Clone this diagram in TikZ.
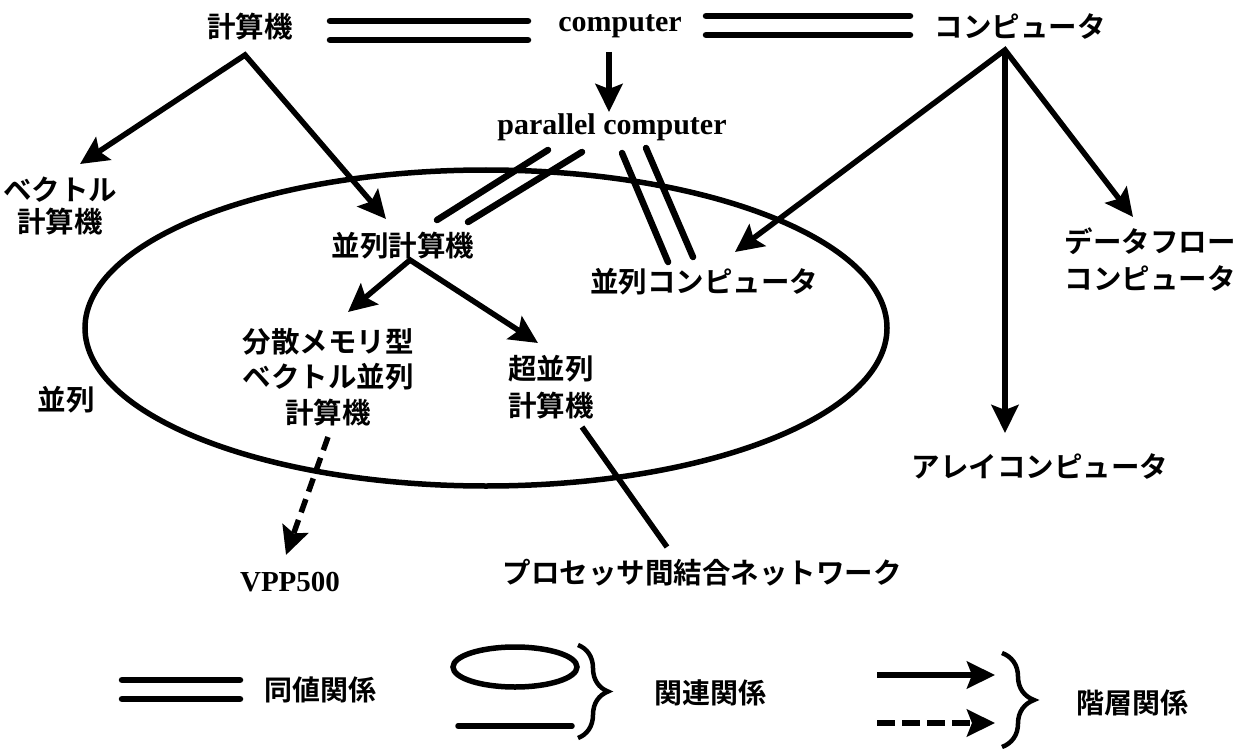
\documentclass[tikz,border=0pt]{standalone}
\usepackage{fontspec}
\setmainfont{Liberation Serif}
\newfontfamily\jp{Noto Sans CJK JP Bold}
\usetikzlibrary{arrows.meta,calc,decorations.pathreplacing}
\begin{document}
\begin{tikzpicture}[x=1pt,y=-1pt,
  jt/.style={font=\jp\fontsize{28.5}{35}\selectfont, inner sep=0pt, align=center},
  en/.style={font=\bfseries\fontsize{30}{36}\selectfont, inner sep=0pt},
  lg/.style={font=\jp\fontsize{28}{30}\selectfont, inner sep=0pt},
  conn/.style={line width=5.5pt},
  tip/.style={},
  arr/.style={conn, -{Stealth[length=28pt,width=27pt,inset=5pt]}},
  biarr/.style={conn, line join=miter, {Stealth[length=28pt,width=27pt,inset=5pt]}-{Stealth[length=28pt,width=27pt,inset=5pt]}},
  eqline/.style={line width=6.5pt, line cap=round},
  dasharr/.style={arr, dash pattern=on 14pt off 8pt},
  rel/.style={line width=5.5pt},
  brc/.style={line width=4.5pt, decorate, decoration={brace, amplitude=#1}},
]
\useasboundingbox (0,0) rectangle (1245,749);

% nodes
\node[jt] (K)  at (250,27)  {計算機};
\node[en] (C)  at (620,26)  {computer};
\node[jt] (J)  at (1020,27) {コンピュータ};
\node[en] (P)  at (612,127) {parallel computer};
\node[jt, font=\jp\fontsize{28.5}{32}\selectfont] (V) at (60,206) {ベクトル\\計算機};
\node[jt] (PK) at (403,246) {並列計算機};
\node[jt] (PC) at (704,282) {並列コンピュータ};
\node[jt, font=\jp\fontsize{28.5}{37}\selectfont] (DF) at (1150,260) {データフロー\\コンピュータ};
\node[jt, font=\jp\fontsize{28.5}{35.5}\selectfont] (B) at (328,377) {分散メモリ型\\ベクトル並列\\計算機};
\node[jt] (H)  at (66,400)  {並列};
\node[jt, font=\jp\fontsize{28.5}{37}\selectfont] (S) at (551,387) {超並列\\計算機};
\node[jt] (A)  at (1040,467) {アレイコンピュータ};
\node[en, font=\bfseries\fontsize{29}{34}\selectfont] (VP) at (290,582) {VPP500};
\node[jt] (N)  at (702,573) {プロセッサ間結合ネットワーク};

% big ellipse
\draw[rel] (486,328) ellipse [x radius=401, y radius=158];

% equivalence lines (top)
\draw[eqline] ($(K)+(80,-6)$) -- ($(C)+(-92,-5)$);
\draw[eqline] ($(K)+(80,13)$) -- ($(C)+(-92,14)$);
\draw[eqline] ($(C)+(86,-10)$) -- ($(J)+(-110,-11)$);
\draw[eqline] ($(C)+(86,9)$) -- ($(J)+(-110,8)$);

% computer -> parallel computer
\draw[arr] ($(C)+(-11,26)$) -- ($(P)+(-3,-15)$);

% 計算機 branches
\coordinate (Kapex) at ($(K)+(-5,28)$);
\draw[biarr] ($(V)+(20,-42)$) -- (Kapex) -- ($(PK)+(-17,-27)$);

% コンピュータ branches
\coordinate (Japex) at ($(J)+(-15,23)$);
\draw[biarr] ($(PC)+(31,-30)$) -- (Japex) -- ($(DF)+(-17,-43)$);
\draw[arr] (Japex) -- ($(A)+(-35,-34)$);

% 並列計算機 branches
\coordinate (PKapex) at ($(PK)+(7,14)$);
\draw[biarr] ($(B)+(20,-65)$) -- (PKapex) -- ($(S)+(-13,-44)$);

% equivalence: parallel computer -- 並列計算機 / 並列コンピュータ
\draw[eqline] ($(P)+(-64,23)$) -- ($(PK)+(34,-26)$);
\draw[eqline] ($(P)+(-30,25)$) -- ($(PK)+(65,-24)$);
\draw[eqline] ($(P)+(10,26)$) -- ($(PC)+(-36,-20)$);
\draw[eqline] ($(P)+(34,21)$) -- ($(PC)+(-11,-25)$);

% dashed hierarchical
\draw[dasharr] ($(B)+(0,60)$) -- ($(VP)+(-4,-27)$);

% association line
\draw[rel] ($(S)+(31,40)$) -- ($(N)+(-35,-26)$);

% legend
\node[lg] (L1) at (320,690) {同値関係};
\node[lg] (L2) at (710,693) {関連関係};
\node[lg] (L3) at (1132,703) {階層関係};

\draw[eqline] ($(L1)+(-198,-10)$) -- ($(L1)+(-80,-10)$);
\draw[eqline] ($(L1)+(-198,9)$) -- ($(L1)+(-80,9)$);

\draw[rel] ($(L2)+(-195,-26)$) ellipse [x radius=62, y radius=20];
\draw[eqline, line width=5.5pt] ($(L2)+(-252,33)$) -- ($(L2)+(-138,33)$);
\draw[brc=30pt] ($(L2)+(-132,-48)$) -- ($(L2)+(-132,45)$);

\draw[arr] ($(L3)+(-255,-28)$) -- ($(L3)+(-137,-28)$);
\draw[dasharr, dash pattern=on 18pt off 7pt] ($(L3)+(-255,20)$) -- ($(L3)+(-137,20)$);
\draw[brc=32pt] ($(L3)+(-130,-50)$) -- ($(L3)+(-130,44)$);
\end{tikzpicture}
\end{document}
